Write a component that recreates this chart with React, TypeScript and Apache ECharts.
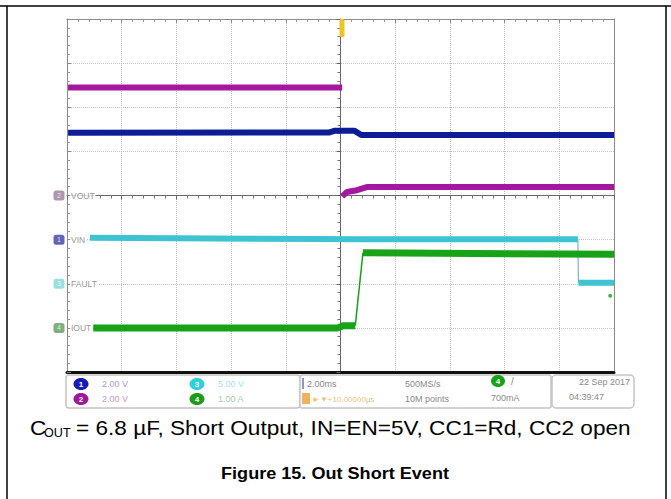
import React, { useEffect, useRef } from 'react';
import * as echarts from 'echarts';

// Screen units: time in divisions (-5..5), level in divisions (-4..4)
const channelNames = ['VOUT', 'VIN', 'FAULT', 'IOUT'];
const channelNumbers = ['2', '1', '3', '4'];
const channelOffsets = [0, -1, -2, -3];
const markerColors = ['#9b7d9b', '#3c3ca8', '#7fd8d8', '#5c9c5c'];

const voutBefore = [[-4.98, 2.45], [0.03, 2.45]];
const voutAfter = [[0.03, -0.02], [0.12, 0.08], [0.3, 0.12], [0.48, 0.19], [5, 0.19]];
const vinTrace = [[-4.98, 1.42], [-0.2, 1.43], [-0.1, 1.47], [0.25, 1.47], [0.38, 1.37], [5, 1.37]];
const faultHigh = [[-4.58, -0.96], [0.4, -0.99], [4.34, -0.99]];
const faultEdge = [[4.34, -0.99], [4.35, -1.98]];
const faultLow = [[4.35, -1.98], [5, -1.98]];
const ioutBefore = [[-4.52, -3.0], [-0.05, -3.0], [0.05, -2.95], [0.27, -2.95]];
const ioutEdge = [[0.27, -2.95], [0.41, -1.3]];
const ioutAfter = [[0.41, -1.3], [5, -1.33]];
const ioutDot = [[4.93, -2.27]];

const scaleTexts = ['2.00 V', '2.00 V', '5.00 V', '1.00 A'];
const scaleNumbers = ['1', '2', '3', '4'];
const scaleColors = ['#1a1ab8', '#a0189a', '#30d0d8', '#1c9c1c'];
const scaleTextColors = ['#a0a0d8', '#c898c8', '#a0e4e8', '#a8cca8'];

const PURPLE = '#a3189c';
const BLUE = '#0d1d96';
const CYAN = '#3ec3d2';
const GREEN = '#17a217';

export default function App() {
  const ref = useRef<HTMLDivElement>(null);
  useEffect(() => {
    const chart = echarts.init(ref.current!, undefined, { renderer: 'svg' });
    const font = 'Liberation Sans, Arial, sans-serif';
    const lineSeries = (data: number[][], color: string, width: number, z = 3) => ({
      type: 'line',
      data,
      symbol: 'none',
      lineStyle: { color, width, cap: 'butt' },
      z,
      silent: true,
    });

    const panelGraphics: any[] = [
      { type: 'rect', shape: { x: 66, y: 375, width: 234, height: 33, r: 3 }, style: { fill: '#fff', stroke: '#c4c4c4', lineWidth: 1.5 } },
      { type: 'rect', shape: { x: 300, y: 375, width: 251, height: 33, r: 2 }, style: { fill: '#fff', stroke: '#c4c4c4', lineWidth: 1.5 } },
      { type: 'rect', shape: { x: 552, y: 375, width: 82, height: 33, r: 4 }, style: { fill: '#fff', stroke: '#c4c4c4', lineWidth: 1.5 } },
    ];
    const circPos = [[81, 384], [81, 399], [197, 384], [197, 399]];
    scaleTexts.forEach((t, i) => {
      const [cx, cy] = circPos[i];
      panelGraphics.push({ type: 'ellipse', shape: { cx, cy, rx: 7.5, ry: 6 }, style: { fill: scaleColors[i] } });
      panelGraphics.push({ type: 'text', style: { x: cx, y: cy, text: scaleNumbers[i], fill: '#fff', font: 'bold 8px ' + font, align: 'center', verticalAlign: 'middle' } });
      panelGraphics.push({ type: 'text', style: { x: cx + 21, y: cy, text: t, fill: scaleTextColors[i], font: '9px ' + font, verticalAlign: 'middle' } });
    });
    panelGraphics.push(
      { type: 'rect', shape: { x: 302, y: 378, width: 2, height: 11 }, style: { fill: '#8a9ab8' } },
      { type: 'text', style: { x: 307, y: 384, text: '2.00ms', fill: '#8a8a8a', font: '9px ' + font, verticalAlign: 'middle' } },
      { type: 'rect', shape: { x: 302, y: 393, width: 8, height: 11 }, style: { fill: '#f0b060' } },
      { type: 'text', style: { x: 312, y: 399, text: '►▼+10.00000μs', fill: '#f2c080', font: '8px ' + font, verticalAlign: 'middle' } },
      { type: 'text', style: { x: 405, y: 384, text: '500MS/s', fill: '#8a8a8a', font: '9px ' + font, verticalAlign: 'middle' } },
      { type: 'text', style: { x: 405, y: 399, text: '10M points', fill: '#8a8a8a', font: '9px ' + font, verticalAlign: 'middle' } },
      { type: 'ellipse', shape: { cx: 498, cy: 381, rx: 7, ry: 6 }, style: { fill: GREEN } },
      { type: 'text', style: { x: 498, y: 381, text: '4', fill: '#fff', font: 'bold 8px ' + font, align: 'center', verticalAlign: 'middle' } },
      { type: 'text', style: { x: 511, y: 381, text: '/', fill: '#8a8a8a', font: '10px ' + font, verticalAlign: 'middle' } },
      { type: 'text', style: { x: 491, y: 398, text: '700mA', fill: '#8a8a8a', font: '9px ' + font, verticalAlign: 'middle' } },
      { type: 'text', style: { x: 630, y: 382, text: '22 Sep 2017', fill: '#8a8a8a', font: '9px ' + font, align: 'right', verticalAlign: 'middle' } },
      { type: 'text', style: { x: 604, y: 397, text: '04:39:47', fill: '#8a8a8a', font: '9px ' + font, align: 'right', verticalAlign: 'middle' } },
    );

    const frame: any[] = [
      { type: 'line', shape: { x1: 0, y1: 6, x2: 671, y2: 6 }, style: { stroke: '#000', lineWidth: 1.5 } },
      { type: 'line', shape: { x1: 7, y1: 6, x2: 7, y2: 499 }, style: { stroke: '#000', lineWidth: 1.5 } },
      { type: 'line', shape: { x1: 666, y1: 6, x2: 666, y2: 499 }, style: { stroke: '#000', lineWidth: 1.5 } },
      { type: 'rect', shape: { x: 339.5, y: 19, width: 5, height: 18, r: 1.5 }, style: { fill: '#f2c31a' }, z: 10 },
      { type: 'text', x: 30, y: 428, scaleX: 1.13, style: { x: 0, y: 0, text: 'C', fill: '#000', font: '20px ' + font, verticalAlign: 'middle' } },
      { type: 'text', x: 44, y: 433, scaleX: 1.05, style: { x: 0, y: 0, text: 'OUT', fill: '#000', font: '12px ' + font, verticalAlign: 'middle' } },
      { type: 'text', x: 76, y: 428, scaleX: 1.13, style: { x: 0, y: 0, text: '= 6.8 µF, Short Output, IN=EN=5V, CC1=Rd, CC2 open', fill: '#000', font: '20px ' + font, verticalAlign: 'middle' } },
      { type: 'text', x: 335, y: 474, scaleX: 1.13, style: { x: 0, y: 0, text: 'Figure 15. Out Short Event', fill: '#000', font: 'bold 16px ' + font, align: 'center', verticalAlign: 'middle' } },
    ];

    const edgeAxis = (extra: any) => ({
      type: 'value', min: -5, max: 5, interval: 1,
      axisLine: { show: true, onZero: false, lineStyle: { color: '#8a8a8a', width: 1 } },
      axisTick: { show: true, inside: true, length: 4, lineStyle: { color: '#8a8a8a' } },
      minorTick: { show: true, splitNumber: 5, length: 3, lineStyle: { color: '#9a9a9a' } },
      axisLabel: { show: false },
      splitLine: { show: false },
      ...extra,
    });
    const edgeYAxis = (extra: any) => ({
      type: 'value', min: -4, max: 4, interval: 1,
      axisLine: { show: true, onZero: false, lineStyle: { color: '#8a8a8a', width: 1 } },
      axisTick: { show: true, inside: true, length: 4, lineStyle: { color: '#8a8a8a' } },
      minorTick: { show: true, splitNumber: 5, length: 3, lineStyle: { color: '#9a9a9a' } },
      axisLabel: { show: false },
      splitLine: { show: false },
      ...extra,
    });

    chart.setOption({
      animation: false,
      backgroundColor: '#fff',
      grid: { left: 67, top: 19, width: 547, height: 353, show: false },
      xAxis: [
        {
          type: 'value', min: -5, max: 5, interval: 1, position: 'bottom',
          axisLine: { show: true, onZero: true, lineStyle: { color: '#666', width: 1 } },
          axisTick: { show: true, length: 4, lineStyle: { color: '#666' } },
          minorTick: { show: true, splitNumber: 5, length: 3, lineStyle: { color: '#777' } },
          axisLabel: { show: false },
          splitLine: { show: true, lineStyle: { type: 'dotted', color: '#c0c0c0', width: 1 } },
        },
        edgeAxis({ position: 'top' }),
        edgeAxis({ position: 'bottom', axisLine: { show: true, onZero: false, lineStyle: { color: '#111', width: 3 } }, axisTick: { show: false }, minorTick: { show: false } }),
      ],
      yAxis: [
        {
          type: 'value', min: -4, max: 4, interval: 1, position: 'left',
          axisLine: { show: true, onZero: true, lineStyle: { color: '#666', width: 1 } },
          axisTick: { show: true, length: 4, lineStyle: { color: '#666' } },
          minorTick: { show: true, splitNumber: 5, length: 3, lineStyle: { color: '#777' } },
          axisLabel: { show: false },
          splitLine: { show: true, lineStyle: { type: 'dotted', color: '#c0c0c0', width: 1 } },
        },
        edgeYAxis({ position: 'left' }),
        edgeYAxis({ position: 'right', axisTick: { show: false }, minorTick: { show: false } }),
      ],
      series: [
        lineSeries(voutBefore, PURPLE, 6),
        lineSeries(voutAfter, PURPLE, 6),
        lineSeries(vinTrace, BLUE, 6),
        lineSeries(faultHigh, CYAN, 6),
        lineSeries(faultEdge, '#7ab8c0', 1.2),
        lineSeries(faultLow, CYAN, 6),
        lineSeries(ioutBefore, GREEN, 7, 4),
        lineSeries(ioutEdge, GREEN, 1.5, 4),
        lineSeries(ioutAfter, GREEN, 7, 4),
        {
          type: 'scatter', data: ioutDot, symbol: 'circle', symbolSize: 4,
          itemStyle: { color: GREEN }, silent: true,
        },
        {
          type: 'scatter', clip: false, silent: true, z: 6,
          data: channelOffsets.map((o, i) => ({
            value: [-5, o],
            itemStyle: { color: markerColors[i] },
            label: { formatter: channelNumbers[i] },
          })),
          symbol: 'roundRect', symbolSize: [11, 10], symbolOffset: [-8, 0],
          label: { show: true, position: 'inside', color: '#fff', fontSize: 7, fontFamily: font },
        },
        {
          type: 'scatter', clip: false, silent: true, z: 6,
          data: channelOffsets.map((o, i) => ({ value: [-5, o], label: { formatter: channelNames[i] } })),
          symbolSize: 0,
          label: {
            show: true, position: 'right', distance: 3, color: '#7a7a7a', fontSize: 8.5, fontFamily: font,
            backgroundColor: '#fff', padding: [0, 1],
          },
        },
      ],
      graphic: [...frame, ...panelGraphics],
    });
    return () => chart.dispose();
  }, []);
  return <div ref={ref} style={{ position: 'absolute', left: 0, top: 0, width: 671, height: 499 }} />;
}
